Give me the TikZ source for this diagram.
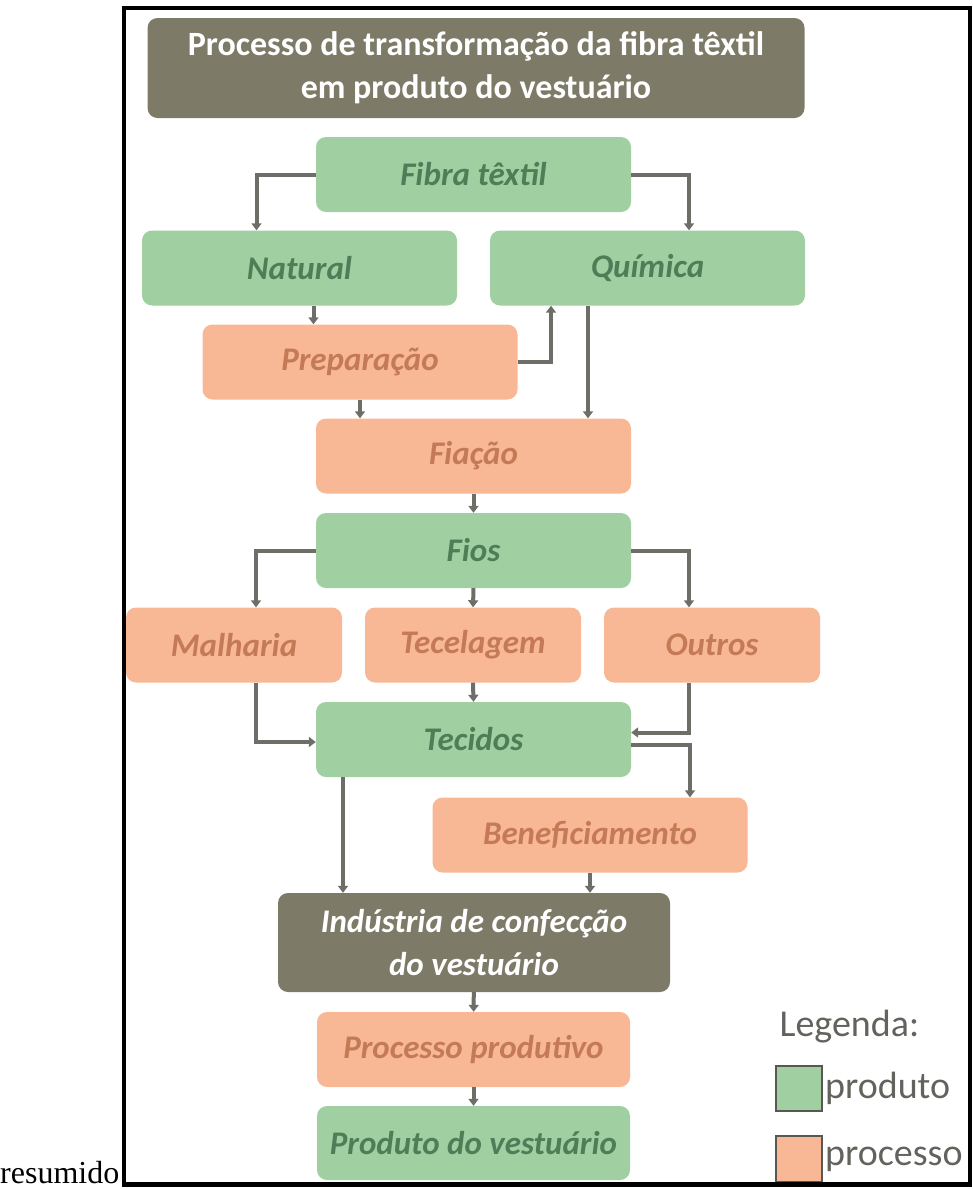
\documentclass[tikz,border=0pt]{standalone}
\usepackage{fontspec}
\setmainfont{Carlito}
\newfontfamily\serifa{Liberation Serif}
\usetikzlibrary{arrows.meta}

\definecolor{verde}{HTML}{A0CFA1}
\definecolor{verdetxt}{HTML}{4F7D57}
\definecolor{laranja}{HTML}{F8B795}
\definecolor{laranjatxt}{HTML}{C47A57}
\definecolor{escuro}{HTML}{7D7B68}
\definecolor{cinza}{HTML}{6E6E68}

\tikzset{
    caixa/.style={rounded corners=10pt, minimum height=75pt, minimum width=315pt,
        align=center, font=\fontsize{33}{40}\selectfont\bfseries\itshape},
    prod/.style={caixa, fill=verde, text=verdetxt},
    proc/.style={caixa, fill=laranja, text=laranjatxt},
    escura/.style={caixa, fill=escuro, text=white},
    seta/.style={draw=cinza, line width=4pt, -{Triangle[length=7pt,width=10pt]}},
    legbox/.style={fill=#1, draw=cinza!80!black, line width=2pt},
}

\begin{document}
\begin{tikzpicture}[x=1pt, y=-1pt]
    \useasboundingbox (0,0) rectangle (973,1189);

    % Titolo
    \node[escura, minimum width=657pt, minimum height=100pt,
          font=\fontsize{34}{43}\selectfont\bfseries] (titolo) at (476,68)
        {Processo de transformação da fibra têxtil\\em produto do vestuário};

    % Fibre
    \node[prod] (fibra) at (473.5,174.5) {Fibra têxtil};
    \node[prod] (natural) at (299.5,268) {Natural};
    \node[prod] (quimica) at (647.5,268) {Química};
    \node[proc] (prep) at (360,362) {Preparação};
    \node[proc] (fiacao) at (473.5,456) {Fiação};
    \node[prod] (fios) at (473.5,550.5) {Fios};

    % Tessitura
    \node[proc, minimum width=216pt] (malharia) at (234,645) {Malharia};
    \node[proc, minimum width=216pt] (tecelagem) at (473,645) {Tecelagem};
    \node[proc, minimum width=216pt] (outros) at (712,645) {Outros};
    \node[prod] (tecidos) at (473.5,739.5) {Tecidos};
    \node[proc] (benef) at (590,835) {Beneficiamento};

    % Confezione
    \node[escura, minimum width=392pt, minimum height=99pt,
          font=\fontsize{33}{43}\selectfont\bfseries\itshape] (industria) at (474,942.5)
        {Indústria de confecção\\do vestuário};
    \node[proc, minimum width=313pt] (processo) at (473.5,1049.5) {Processo produtivo};
    \node[prod, minimum width=313pt, minimum height=74pt] (produto) at (473.5,1143) {Produto do vestuário};

    % Frecce
    \draw[seta] (fibra.west) -| ([xshift=-43pt]natural.north);
    \draw[seta] (fibra.east) -| ([xshift=41.5pt]quimica.north);
    \draw[seta] ([xshift=14pt]natural.south) -- ([xshift=14pt]natural.south |- prep.north);
    \draw[seta] (prep.east) -| ([xshift=-96.5pt]quimica.south);
    \draw[seta] ([xshift=-59.5pt]quimica.south) -- ([xshift=-59.5pt]quimica.south |- fiacao.north);
    \draw[seta] (prep.south) -- (prep.south |- fiacao.north);
    \draw[seta] (fiacao) -- (fios);
    \draw[seta] (fios.west) -| ([xshift=22pt]malharia.north);
    \draw[seta] (fios.east) -| ([xshift=-23pt]outros.north);
    \draw[seta] (fios.south) -- (tecelagem.north);
    \draw[seta] (tecelagem.south) -- (tecidos.north);
    \draw[seta] ([xshift=22pt]malharia.south) |- ([yshift=-2.5pt]tecidos.west);
    \draw[seta] ([xshift=-23pt]outros.south) |- ([yshift=7pt]tecidos.east);
    \draw[seta] ([yshift=-5.5pt]tecidos.east) -| ([xshift=100pt]benef.north);
    \draw[seta] ([xshift=-130.5pt]tecidos.south) -- ([xshift=-130.5pt]tecidos.south |- industria.north);
    \draw[seta] (benef.south) -- (benef.south |- industria.north);
    \draw[seta] (industria) -- (processo);
    \draw[seta] (processo) -- (produto);

    % Legenda
    \node[anchor=base west, text=cinza!90!black, font=\fontsize{38}{44}\selectfont] (legenda) at (776,1036) {Legenda:};
    \node[legbox=verde, minimum width=46pt, minimum height=45pt, inner sep=0pt] (qverde) at (799,1088.5) {};
    \node[anchor=west, text=cinza!90!black, font=\fontsize{38}{44}\selectfont, inner sep=2pt] (lprod) at (qverde.east) {produto};
    \node[legbox=laranja, minimum width=46pt, minimum height=46pt, inner sep=0pt] (qlaranja) at (799,1159) {};
    \node[anchor=west, text=cinza!90!black, font=\fontsize{38}{44}\selectfont, inner sep=2pt] (lproc) at (qlaranja.east) {processo};

    % Cornice
    \draw[line width=4.5pt] (124,8) rectangle (970,1184.5);
    \node[anchor=base west, inner sep=0pt, font=\serifa\fontsize{32}{36}\selectfont] (resumido) at (0,1183) {resumido};
\end{tikzpicture}
\end{document}
